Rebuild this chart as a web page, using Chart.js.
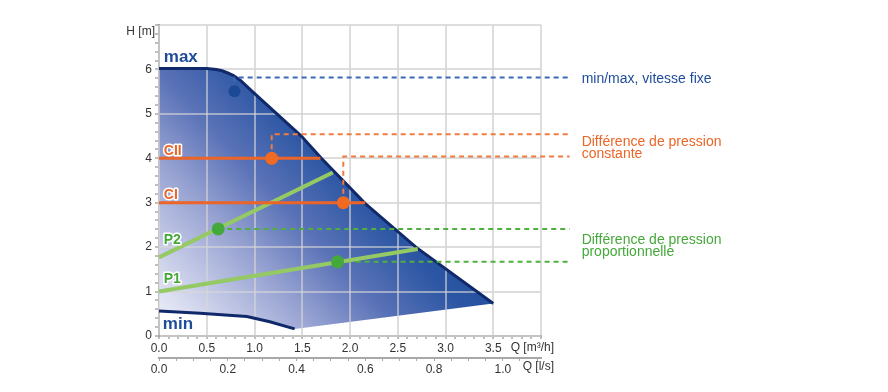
<!DOCTYPE html>
<html>
<head>
<meta charset="utf-8">
<script src="https://cdn.jsdelivr.net/npm/chart.js@4.4.1/dist/chart.umd.min.js"></script>
<style>
  html, body { margin: 0; padding: 0; background: #fff; }
  #wrap { width: 888px; height: 392px; }
</style>
</head>
<body>
<div id="wrap"><canvas id="myChart"></canvas></div>
<script>
// Q in m3/h, H in m
var maxQ = [0, 0.5, 0.6, 0.66, 0.72, 0.78, 0.85, 0.99, 1.22, 1.49, 1.7, 2.16, 2.69, 3.5];
var maxH = [6.02, 6.02, 6.0, 5.97, 5.92, 5.86, 5.76, 5.48, 5.03, 4.5, 4.0, 2.98, 2.0, 0.73];
var minQ = [0, 0.43, 0.92, 1.16, 1.42];
var minH = [0.56, 0.51, 0.44, 0.32, 0.16];

var ciiQ = [0, 1.69], ciiH = [4.0, 4.0];
var ciQ = [0, 2.16], ciH = [3.0, 3.0];
var p2Q = [0, 1.82], p2H = [1.77, 3.68];
var p1Q = [0, 2.71], p1H = [1.0, 1.96];

// operating points: max, CII, CI, P2, P1
var pointQ = [0.79, 1.18, 1.93, 0.62, 1.87];
var pointH = [5.51, 4.0, 3.0, 2.41, 1.67];
var guideH = [5.82, 4.54, 4.04, 2.41, 1.67];
var guideEndQ = 4.3;

var hTicks = [0, 1, 2, 3, 4, 5, 6];
var qTicks = [0, 0.5, 1.0, 1.5, 2.0, 2.5, 3.0, 3.5];
var lsTicks = [0, 0.2, 0.4, 0.6, 0.8, 1.0];

var NAVY = '#10296b', BLUE = '#1f4c9a', ORANGE = '#ec6528', GREEN = '#45a83a', LGREEN = '#94c964';
var AXIS = '#a8a8a8', GRID = 'rgba(215,215,215,0.6)';

Chart.defaults.font.family = "'Liberation Sans', Arial, sans-serif";
Chart.defaults.color = '#333';

function pts(qs, hs) {
    return qs.map(function (q, i) { return { x: q, y: hs[i] }; });
}
function hasTick(list, v) {
    return list.some(function (t) { return Math.abs(t - v) < 1e-6; });
}

var areaPts = pts(maxQ, maxH).concat(pts(minQ, minH).reverse());

function guide(i) {
    var p = [{ x: pointQ[i], y: pointH[i] }];
    if (Math.abs(guideH[i] - pointH[i]) > 0.01) p.push({ x: pointQ[i], y: guideH[i] });
    p.push({ x: guideEndQ, y: guideH[i] });
    return p;
}

function areaGradient(c) {
    var chart = c.chart;
    if (!chart.chartArea) return BLUE;
    var xs = chart.scales.x, ys = chart.scales.y;
    var g = chart.ctx.createLinearGradient(xs.getPixelForValue(0), ys.getPixelForValue(0),
        xs.getPixelForValue(2.3), ys.getPixelForValue(4.6));
    g.addColorStop(0, '#f4f5fb');
    g.addColorStop(0.15, '#d5d9ee');
    g.addColorStop(0.4, '#98a3d2');
    g.addColorStop(0.6, '#5a72b7');
    g.addColorStop(0.8, '#2d57a4');
    g.addColorStop(1, '#1b4a9a');
    return g;
}

function lineDs(data, color, width, order, dash) {
    return {
        data: data, borderColor: color, borderWidth: width, pointRadius: 0,
        tension: 0, fill: false, order: order, borderDash: dash || [], clip: false
    };
}

// grid again on top of the filled area (lines drawn later stay above it)
var gridOverFill = {
    id: 'gridOverFill',
    afterDatasetDraw: function (chart, args) {
        if (args.index !== 0) return;
        chart.scales.x.drawGrid(chart.chartArea);
        chart.scales.y.drawGrid(chart.chartArea);
    }
};

var textPlugin = {
    id: 'texts',
    afterDatasetsDraw: function (chart) {
        var ctx = chart.ctx, xs = chart.scales.x, ys = chart.scales.y, x2 = chart.scales.x2;
        ctx.save();
        ctx.textBaseline = 'middle';

        // curve names inside the plot
        var names = [
            { t: 'max', q: 0.05, h: 6.27, c: BLUE, s: 17, halo: false },
            { t: 'CII', q: 0.05, h: 4.17, c: ORANGE, s: 14, halo: true },
            { t: 'CI', q: 0.05, h: 3.17, c: ORANGE, s: 14, halo: true },
            { t: 'P2', q: 0.05, h: 2.16, c: GREEN, s: 14, halo: true },
            { t: 'P1', q: 0.05, h: 1.29, c: GREEN, s: 14, halo: true },
            { t: 'min', q: 0.04, h: 0.26, c: BLUE, s: 17, halo: false }
        ];
        names.forEach(function (n) {
            var px = xs.getPixelForValue(n.q), py = ys.getPixelForValue(n.h);
            ctx.font = 'bold ' + n.s + "px 'Liberation Sans', Arial, sans-serif";
            ctx.textAlign = 'left';
            if (n.halo) {
                ctx.strokeStyle = '#fff';
                ctx.lineWidth = 3;
                ctx.lineJoin = 'round';
                ctx.strokeText(n.t, px, py);
            }
            ctx.fillStyle = n.c;
            ctx.fillText(n.t, px, py);
        });

        // notes at the end of the dashed guides
        ctx.font = "14px 'Liberation Sans', Arial, sans-serif";
        ctx.textAlign = 'left';
        var tx = xs.getPixelForValue(guideEndQ) + 12;
        ctx.fillStyle = BLUE;
        ctx.fillText('min/max, vitesse fixe', tx, ys.getPixelForValue(guideH[0]) + 2);
        var mo = (ys.getPixelForValue(guideH[1]) + ys.getPixelForValue(guideH[2])) / 2;
        ctx.fillStyle = ORANGE;
        ctx.fillText('Différence de pression', tx, mo - 3);
        ctx.fillText('constante', tx, mo + 9);
        var mg = (ys.getPixelForValue(guideH[3]) + ys.getPixelForValue(guideH[4])) / 2;
        ctx.fillStyle = GREEN;
        ctx.fillText('Différence de pression', tx, mg - 5);
        ctx.fillText('proportionnelle', tx, mg + 7);

        // axis titles
        ctx.font = "12px 'Liberation Sans', Arial, sans-serif";
        ctx.fillStyle = '#333';
        ctx.textAlign = 'right';
        ctx.fillText('H [m]', ys.right - 4, ys.top + 7);
        ctx.fillText('Q [m³/h]', xs.right + 13, xs.top + 12);
        ctx.fillText('Q [l/s]', xs.right + 13, x2.top + 9);
        ctx.restore();
    }
};

var ctx = document.getElementById('myChart');
var myChart = new Chart(ctx, {
    type: 'line',
    data: {
        datasets: [
            {
                data: areaPts, fill: 'shape', backgroundColor: areaGradient,
                borderWidth: 0, pointRadius: 0, tension: 0, order: 20
            },
            lineDs(pts(maxQ, maxH), NAVY, 3, 15),
            lineDs(pts(minQ, minH), NAVY, 3, 15),
            lineDs(guide(0), '#3a6ab5', 2, 12, [5, 4]),
            lineDs(guide(1), '#f07b3f', 2, 12, [5, 4]),
            lineDs(guide(2), '#f07b3f', 2, 12, [5, 4]),
            lineDs(guide(3), '#4fb03f', 2, 12, [5, 4]),
            lineDs(guide(4), '#4fb03f', 2, 12, [5, 4]),
            lineDs(pts(ciiQ, ciiH), ORANGE, 3, 8),
            lineDs(pts(ciQ, ciH), ORANGE, 3, 8),
            lineDs(pts(p2Q, p2H), LGREEN, 4, 8),
            lineDs(pts(p1Q, p1H), LGREEN, 4, 8),
            {
                data: pts(pointQ, pointH), showLine: false, order: 1,
                pointRadius: [6, 6.5, 6.5, 6.5, 6.5],
                pointBackgroundColor: ['#1c4996', '#f06a22', '#f06a22', GREEN, GREEN],
                pointBorderWidth: 0
            }
        ]
    },
    options: {
        responsive: true,
        maintainAspectRatio: false,
        animation: false,
        layout: { padding: { left: 0, right: 347, top: 25, bottom: 10 } },
        plugins: { legend: { display: false }, tooltip: { enabled: false } },
        scales: {
            x: {
                type: 'linear', position: 'bottom', weight: 0, min: 0, max: 4,
                afterFit: function (s) { s.height = 22; },
                ticks: {
                    stepSize: 0.1, maxTicksLimit: 100, autoSkip: false, maxRotation: 0,
                    padding: 2, font: { size: 12 },
                    callback: function (v) { return hasTick(qTicks, v) ? v.toFixed(1) : ''; }
                },
                grid: {
                    lineWidth: 2, tickLength: 3, tickColor: AXIS, tickWidth: 1,
                    color: function (c) { return c.tick && (hasTick(qTicks, c.tick.value) || c.tick.value > 3.99) ? GRID : 'transparent'; }
                },
                border: { color: AXIS, width: 2 }
            },
            x2: {
                type: 'linear', position: 'bottom', weight: 1, min: 0, max: 4 / 3.6,
                afterFit: function (s) { s.height = 24; },
                ticks: {
                    stepSize: 0.05, maxTicksLimit: 100, autoSkip: false, includeBounds: false,
                    maxRotation: 0, padding: 1, font: { size: 12 },
                    callback: function (v) { return hasTick(lsTicks, v) ? v.toFixed(1) : ''; }
                },
                grid: { drawOnChartArea: false, tickLength: 3, color: AXIS, tickWidth: 1 },
                border: { color: AXIS, width: 2 }
            },
            y: {
                type: 'linear', position: 'left', min: 0, max: 7,
                afterFit: function (s) { s.width = 159; },
                ticks: {
                    stepSize: 0.2, maxTicksLimit: 100, autoSkip: false, padding: 3, font: { size: 12 },
                    callback: function (v) { return hasTick(hTicks, v) ? String(Math.round(v)) : ''; }
                },
                grid: {
                    lineWidth: 2, tickLength: 4, tickColor: AXIS, tickWidth: 1,
                    color: function (c) { return c.tick && Math.abs(c.tick.value - Math.round(c.tick.value)) < 1e-6 ? GRID : 'transparent'; }
                },
                border: { color: AXIS, width: 2 }
            }
        }
    },
    plugins: [gridOverFill, textPlugin]
});
</script>
</body>
</html>
